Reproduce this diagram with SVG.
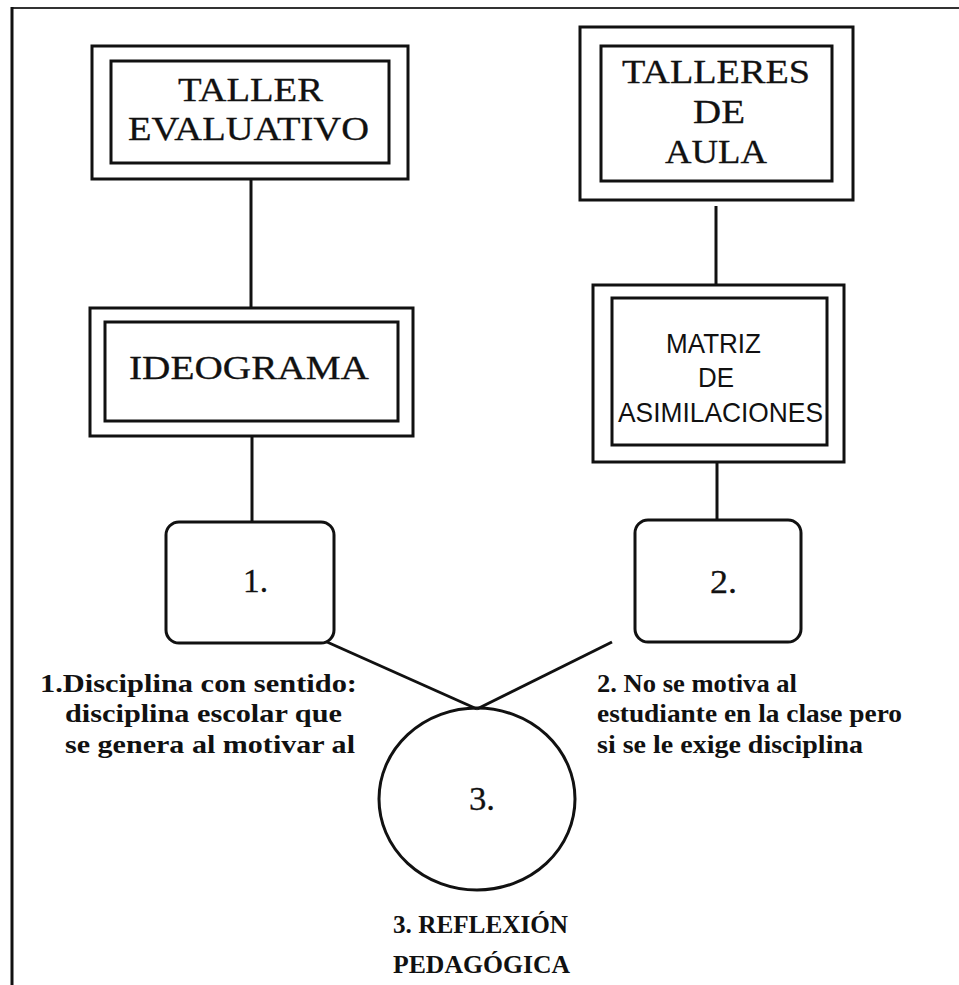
<svg xmlns="http://www.w3.org/2000/svg" width="959" height="985" viewBox="0 0 959 985">
<style>
.box{fill:none;stroke:#111;stroke-width:3}
.con{fill:none;stroke:#111;stroke-width:3}
.t{font-family:"Liberation Serif","Times New Roman",serif;fill:#111;font-size:34px;stroke:#111;stroke-width:0.3}
.s{font-family:"Liberation Sans",Arial,sans-serif;fill:#111;font-size:28px}
.b{font-family:"Liberation Serif","Times New Roman",serif;fill:#111;font-size:25px;font-weight:bold}
</style>
<rect x="0" y="0" width="959" height="985" fill="#fff"/>
<g id="frame">
<line x1="12" y1="8" x2="959" y2="8" stroke="#333" stroke-width="2"/>
<line x1="12" y1="7" x2="12" y2="985" stroke="#111" stroke-width="3"/>
</g>
<g id="connectors">
<line class="con" x1="251" y1="179" x2="251" y2="308"/>
<line class="con" x1="252" y1="436" x2="252" y2="522"/>
<line class="con" x1="716" y1="206" x2="716" y2="285"/>
<line class="con" x1="717" y1="462" x2="717" y2="520"/>
<line class="con" x1="327" y1="642" x2="477" y2="709"/>
<line class="con" x1="612" y1="642" x2="477" y2="709"/>
</g>
<g id="taller-evaluativo">
<rect class="box" x="92" y="46" width="316" height="133"/>
<rect class="box" x="111" y="61" width="278" height="102"/>
<text class="t" x="178" y="101" textLength="145" lengthAdjust="spacingAndGlyphs">TALLER</text>
<text class="t" x="128" y="140" textLength="241" lengthAdjust="spacingAndGlyphs">EVALUATIVO</text>
</g>
<g id="talleres-de-aula">
<rect class="box" x="580" y="27" width="273" height="173"/>
<rect class="box" x="601" y="46" width="231" height="135"/>
<text class="t" x="622" y="83" textLength="188" lengthAdjust="spacingAndGlyphs">TALLERES</text>
<text class="t" x="693" y="123" textLength="52" lengthAdjust="spacingAndGlyphs">DE</text>
<text class="t" x="665" y="163" textLength="102" lengthAdjust="spacingAndGlyphs">AULA</text>
</g>
<g id="ideograma">
<rect class="box" x="90" y="308" width="323" height="128"/>
<rect class="box" x="105" y="322" width="293" height="99"/>
<text class="t" x="129" y="379" textLength="240" lengthAdjust="spacingAndGlyphs">IDEOGRAMA</text>
</g>
<g id="matriz">
<rect class="box" x="593" y="285" width="251" height="177"/>
<rect class="box" x="612" y="298" width="215" height="147"/>
<text class="s" x="666" y="353" textLength="95" lengthAdjust="spacingAndGlyphs">MATRIZ</text>
<text class="s" x="698" y="387" textLength="36" lengthAdjust="spacingAndGlyphs">DE</text>
<text class="s" x="618" y="422" textLength="205" lengthAdjust="spacingAndGlyphs">ASIMILACIONES</text>
</g>
<g id="node1">
<rect class="box" x="166" y="522" width="168" height="121" rx="13"/>
<text class="t" x="243" y="592" textLength="25" lengthAdjust="spacingAndGlyphs">1.</text>
</g>
<g id="node2">
<rect class="box" x="635" y="520" width="166" height="122" rx="13"/>
<text class="t" x="710" y="593" textLength="27" lengthAdjust="spacingAndGlyphs">2.</text>
</g>
<g id="node3">
<ellipse class="box" cx="477" cy="799" rx="98" ry="91"/>
<text class="t" x="469" y="810" textLength="26" lengthAdjust="spacingAndGlyphs">3.</text>
</g>
<g id="label1">
<text class="b" x="40" y="692" textLength="317" lengthAdjust="spacingAndGlyphs">1.Disciplina con sentido:</text>
<text class="b" x="65" y="722" textLength="277" lengthAdjust="spacingAndGlyphs">disciplina escolar que</text>
<text class="b" x="65" y="753" textLength="290" lengthAdjust="spacingAndGlyphs">se genera al motivar al</text>
</g>
<g id="label2">
<text class="b" x="597" y="692" textLength="200" lengthAdjust="spacingAndGlyphs">2. No se motiva al</text>
<text class="b" x="597" y="722" textLength="305" lengthAdjust="spacingAndGlyphs">estudiante en la clase pero</text>
<text class="b" x="597" y="753" textLength="266" lengthAdjust="spacingAndGlyphs">si se le exige disciplina</text>
</g>
<g id="label3">
<text class="b" x="393" y="933" textLength="175" lengthAdjust="spacingAndGlyphs">3. REFLEXIÓN</text>
<text class="b" x="393" y="973" textLength="177" lengthAdjust="spacingAndGlyphs">PEDAGÓGICA</text>
</g>
</svg>
